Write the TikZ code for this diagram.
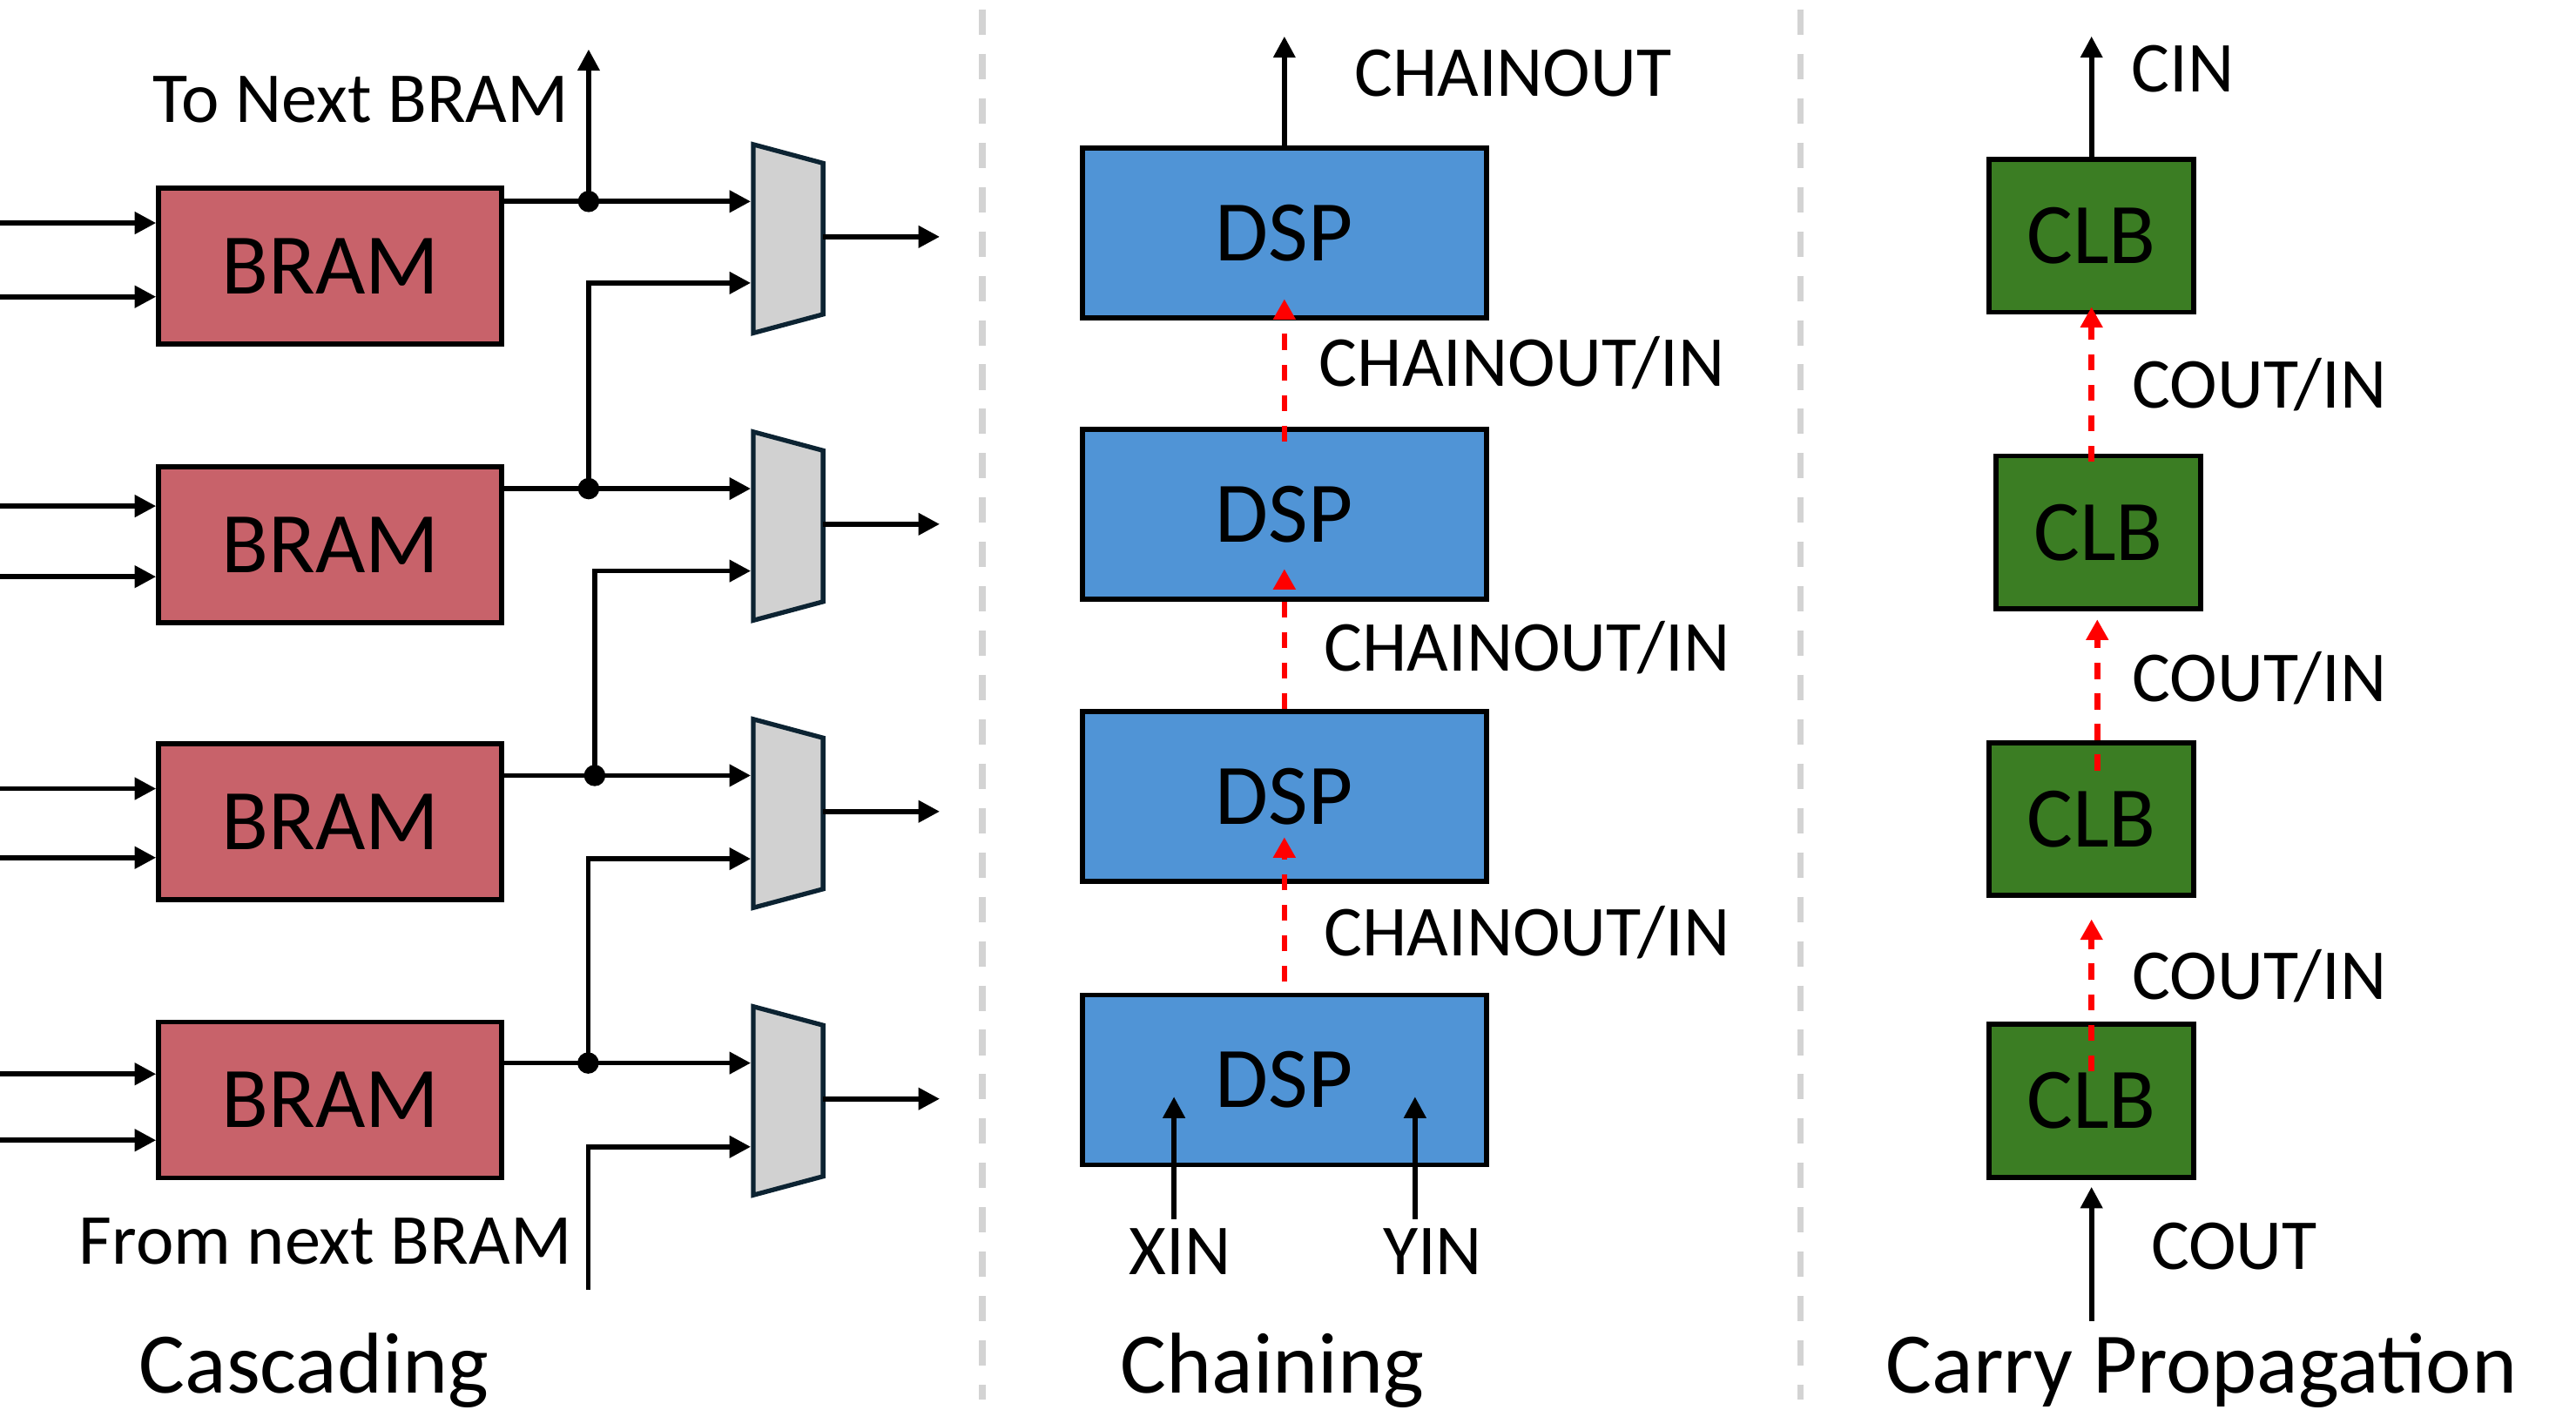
\documentclass[tikz,border=0pt]{standalone}
\usepackage{fontspec}
\setmainfont{Carlito}
\usetikzlibrary{arrows.meta}
\definecolor{bramred}{RGB}{200,98,106}
\definecolor{dspblue}{RGB}{80,148,214}
\definecolor{clbgreen}{RGB}{59,125,35}
\definecolor{muxgray}{RGB}{209,209,209}
\definecolor{muxline}{RGB}{12,35,50}
\definecolor{divgray}{RGB}{211,211,211}
\begin{document}
\begin{tikzpicture}[x=0.1mm,y=-0.1mm,line width=0.3mm,
  tip/.style={-{Triangle[length=1.3mm,width=1.3mm]}},
  bigtxt/.style={font=\fontsize{14.95}{18}\selectfont},
  smalltxt/.style={font=\fontsize{12.42}{15}\selectfont},
  lbl/.style={smalltxt,inner sep=0pt,anchor=base},
  ttl/.style={bigtxt,inner sep=0pt,anchor=base},
  blk/.style={draw=black,line width=0.3mm,inner sep=0pt,bigtxt},
  bram/.style={blk,fill=bramred,minimum width=20.9mm,minimum height=9.5mm},
  dsp/.style={blk,fill=dspblue,minimum width=24.6mm,minimum height=10.35mm},
  clb/.style={blk,fill=clbgreen,minimum width=12.46mm,minimum height=9.3mm},
  mux/.style={draw=muxline,fill=muxgray,line width=0.28mm,line join=miter},
  chain/.style={draw=red,line width=0.35mm,dash pattern=on 0.97mm off 0.89mm,-{Triangle[length=1.25mm,width=1.3mm]}},
  divider/.style={draw=divgray,line width=0.39mm,dash pattern=on 1.54mm off 1.16mm},
  jdot/.style={circle,fill=black,inner sep=0pt,minimum size=1.3mm}
]
\useasboundingbox (0,0) rectangle (1568,858);

% dividers
\coordinate (v1a) at (598,5.8); \coordinate (v1b) at (598,852);
\coordinate (v2a) at (1096,5.8); \coordinate (v2b) at (1096,852);
\draw[divider] (v1a) -- (v1b);
\draw[divider] (v2a) -- (v2b);

% ---------------- Cascading ----------------
\node[bram] (b1) at (201,162) {BRAM};
\node[bram] (b2) at (201,331.5) {BRAM};
\node[bram] (b3) at (201,500) {BRAM};
\node[bram] (b4) at (201,669.5) {BRAM};

\foreach \k/\n/\y in {1/b1/135.7,2/b1/180.6,3/b2/308,4/b2/351,5/b3/480,6/b3/522,7/b4/653.7,8/b4/694}{
  \coordinate (src\k) at (0,\y);
  \draw[tip] (src\k) -- (src\k -| \n.west);
}

% muxes
\foreach \k/\c in {1/145.3,2/320.2,3/495.1,4/670}{
  \draw[mux] (458.5,\c-57.4) -- (501,\c-46) -- (501,\c+46) -- (458.5,\c+57.4) -- cycle;
  \coordinate (mo\k) at (501,\c-1.2);
  \coordinate (mt\k) at (572,\c-1.2);
  \draw[tip] (mo\k) -- (mt\k);
}

\coordinate (m1a) at (457,122.6); \coordinate (m1b) at (457,172.2);
\coordinate (m2a) at (457,297.4); \coordinate (m2b) at (457,347.5);
\coordinate (m3a) at (457,472);   \coordinate (m3b) at (457,522.7);
\coordinate (m4a) at (457,647);   \coordinate (m4b) at (457,698);

\coordinate (d1) at (358.3,122.6);
\coordinate (d2) at (358.3,297.4);
\coordinate (d3) at (362,472);
\coordinate (d4) at (358,647);

\draw[tip] (b1.east |- d1) -- (m1a);
\draw[tip] (b2.east |- d2) -- (m2a);
\draw[tip] (b3.east |- d3) -- (m3a);
\draw[tip] (b4.east |- d4) -- (m4a);

\coordinate (up1) at (358.3,30);
\coordinate (fn) at (358,785);
\draw[tip] (d1) -- (up1);
\draw[tip] (d2) |- (m1b);
\draw[tip] (d3) |- (m2b);
\draw[tip] (d4) |- (m3b);
\draw[tip] (fn) |- (m4b);

\node[jdot] (j1) at (d1) {};
\node[jdot] (j2) at (d2) {};
\node[jdot] (j3) at (d3) {};
\node[jdot] (j4) at (d4) {};

\node[lbl] (tonext) at (219.5,74.2) {To Next BRAM};
\node[lbl] (fromnext) at (198.1,769.5) {From next BRAM};
\node[ttl] (casc) at (191,848.1) {Cascading};

% ---------------- Chaining ----------------
\node[dsp] (p1) at (781.8,141.7) {DSP};
\node[dsp] (p2) at (781.8,313) {DSP};
\node[dsp] (p3) at (781.8,484.8) {DSP};
\node[dsp] (p4) at (781.8,657.3) {DSP};

\coordinate (cout) at (781.8,22.1);
\draw[tip] (p1.north) -- (cout);

\draw[chain] ([yshift=-0.9mm]p2.north) -- ([yshift=1.3mm]p1.south);
\draw[chain] (p3.north) -- ([yshift=2mm]p2.south);
\draw[chain] ([yshift=0.64mm]p4.north) -- ([yshift=2.85mm]p3.south);

\coordinate (xa) at (714.6,742); \coordinate (xb) at (714.6,667.5);
\coordinate (ya) at (861.3,742); \coordinate (yb) at (861.3,667.5);
\draw[tip] (xa) -- (xb);
\draw[tip] (ya) -- (yb);

\node[lbl] (chainout) at (920.9,58.3) {CHAINOUT};
\node[lbl] (ci1) at (926.4,235) {CHAINOUT/IN};
\node[lbl] (ci2) at (929.5,408.5) {CHAINOUT/IN};
\node[lbl] (ci3) at (929.5,582) {CHAINOUT/IN};
\node[lbl] (xin) at (718.3,775.7) {XIN};
\node[lbl] (yin) at (872,775.7) {YIN};
\node[ttl] (chn) at (774.5,848.1) {Chaining};

% ---------------- Carry Propagation ----------------
\node[clb] (c1) at (1273.1,143.5) {CLB};
\node[clb] (c2) at (1277.2,324) {CLB};
\node[clb] (c3) at (1273.1,498.5) {CLB};
\node[clb] (c4) at (1273.1,670) {CLB};

\coordinate (cin) at (1273.1,22.1);
\draw[tip] (c1.north) -- (cin);

\coordinate (r1s) at (1273.1,281);
\coordinate (r2s) at (1276.6,469);
\coordinate (r3s) at (1273.1,652);
\draw[chain] (r1s) -- ([yshift=0.47mm]c1.south -| r1s);
\draw[chain] (r2s) -- ([yshift=-0.5mm]c2.south -| r2s);
\draw[chain] (r3s) -- ([yshift=-1.3mm]c3.south -| r3s);

\coordinate (cb) at (1273.1,804);
\draw[tip] (cb) -- ([yshift=-0.44mm]c4.south);

\node[lbl] (cinl) at (1328.8,55.7) {CIN};
\node[lbl] (co1) at (1375.4,248.2) {COUT/IN};
\node[lbl] (co2) at (1375.4,426.8) {COUT/IN};
\node[lbl] (co3) at (1375.4,608) {COUT/IN};
\node[lbl] (coutl) at (1359.9,772.5) {COUT};
\node[ttl] (carry) at (1340,848.1) {Carry Propagation};
\end{tikzpicture}
\end{document}
